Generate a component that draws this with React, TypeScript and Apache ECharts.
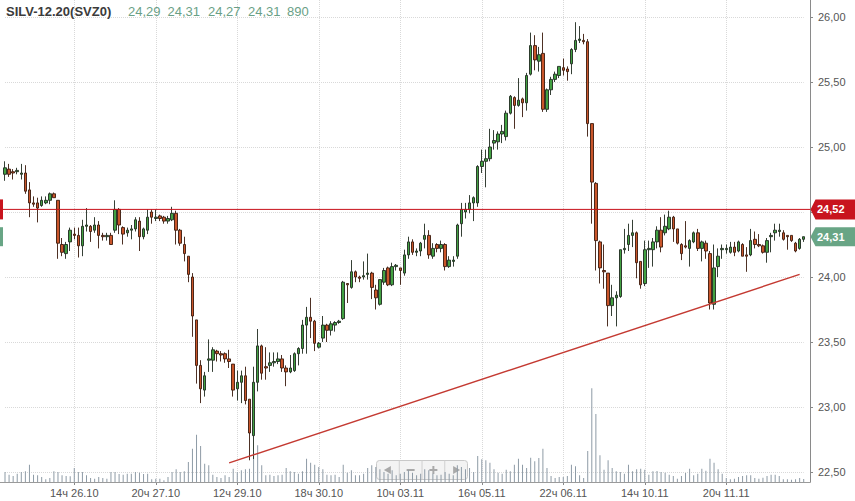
import React, { useEffect, useRef } from 'react';
import * as echarts from 'echarts';

// ---- data ----
const TITLE = 'SILV-12.20(SVZ0)';
const DAYS = ['23.10', '26.10', '27.10', '28.10', '29.10', '30.10', '02.11', '03.11', '05.11', '06.11', '09.11', '10.11', '11.11', '12.11', '13.11'];
const FIRST_HOUR = 11;
const SESSION_HOURS = [10, 11, 12, 13, 14, 15, 16, 17, 18, 19, 20, 21, 22, 23];

const opens = [
  24.79, 24.83, 24.81, 24.81, 24.79, 24.80, 24.67, 24.57, 24.57, 24.55,
  24.57, 24.59, 24.64, 24.59, 24.25, 24.18, 24.27, 24.33, 24.32, 24.24,
  24.39, 24.39, 24.36, 24.40, 24.32, 24.31, 24.32, 24.36, 24.52, 24.38,
  24.34, 24.36, 24.37, 24.43, 24.31, 24.36, 24.50, 24.45, 24.47, 24.46,
  24.43, 24.44, 24.49, 24.36, 24.25, 24.16, 24.00, 23.67, 23.32, 23.13,
  23.36, 23.36, 23.43, 23.41, 23.41, 23.37, 23.33, 23.14, 23.19, 23.24,
  23.06, 22.78, 23.19, 23.47, 23.31, 23.32, 23.34, 23.35, 23.37, 23.30,
  23.27, 23.28, 23.41, 23.45, 23.63, 23.69, 23.66, 23.46, 23.53, 23.63,
  23.59, 23.63, 23.65, 23.68, 23.95, 23.92, 24.04, 24.00, 24.00, 24.02,
  24.03, 23.90, 23.79, 23.96, 24.07, 23.94, 24.08, 24.07, 24.03, 24.17,
  24.27, 24.19, 24.20, 24.29, 24.32, 24.16, 24.25, 24.22, 24.25, 24.08,
  24.12, 24.16, 24.41, 24.50, 24.52, 24.57, 24.57, 24.85, 24.89, 24.91,
  25.03, 25.04, 25.10, 25.08, 25.26, 25.38, 25.32, 25.37, 25.34, 25.56,
  25.78, 25.66, 25.72, 25.29, 25.44, 25.52, 25.55, 25.61, 25.60, 25.64,
  25.75, 25.82, 25.82, 25.81, 25.18, 24.72, 24.27, 24.05, 24.03, 23.78,
  23.84, 23.85, 24.21, 24.25, 24.32, 24.34, 24.12, 23.95, 24.21, 24.21,
  24.27, 24.36, 24.34, 24.37, 24.46, 24.37, 24.25, 24.24, 24.22, 24.27,
  24.34, 24.22, 24.26, 24.18, 23.79, 24.08, 24.21, 24.21, 24.19, 24.23,
  24.20, 24.25, 24.17, 24.17, 24.29, 24.25, 24.24, 24.19, 24.31, 24.34,
  24.35, 24.34, 24.32, 24.32, 24.26, 24.22, 24.29,
];
const closes = [
  24.84, 24.79, 24.80, 24.82, 24.80, 24.66, 24.57, 24.56, 24.53, 24.59,
  24.59, 24.64, 24.61, 24.26, 24.19, 24.25, 24.36, 24.32, 24.24, 24.39,
  24.40, 24.35, 24.40, 24.32, 24.31, 24.32, 24.25, 24.52, 24.40, 24.33,
  24.36, 24.37, 24.44, 24.31, 24.37, 24.46, 24.46, 24.46, 24.45, 24.43,
  24.45, 24.49, 24.36, 24.26, 24.18, 24.02, 23.70, 23.32, 23.14, 23.24,
  23.37, 23.44, 23.41, 23.40, 23.37, 23.35, 23.13, 23.19, 23.24, 23.05,
  22.80, 23.19, 23.47, 23.26, 23.30, 23.34, 23.35, 23.37, 23.30, 23.27,
  23.30, 23.41, 23.45, 23.63, 23.69, 23.66, 23.49, 23.49, 23.63, 23.59,
  23.64, 23.65, 23.66, 23.96, 23.94, 24.04, 24.00, 23.99, 24.01, 24.03,
  23.92, 23.84, 23.98, 24.05, 23.94, 24.08, 24.09, 24.05, 24.17, 24.27,
  24.19, 24.20, 24.26, 24.32, 24.17, 24.22, 24.22, 24.25, 24.08, 24.13,
  24.13, 24.40, 24.52, 24.52, 24.57, 24.61, 24.85, 24.89, 24.91, 25.00,
  25.05, 25.10, 25.12, 25.26, 25.39, 25.32, 25.36, 25.34, 25.55, 25.78,
  25.67, 25.71, 25.29, 25.44, 25.52, 25.56, 25.62, 25.59, 25.58, 25.75,
  25.82, 25.83, 25.81, 25.18, 24.73, 24.28, 24.07, 24.04, 23.78, 23.84,
  23.86, 24.21, 24.22, 24.32, 24.34, 24.11, 23.94, 24.21, 24.22, 24.27,
  24.36, 24.23, 24.39, 24.46, 24.37, 24.26, 24.18, 24.23, 24.28, 24.34,
  24.22, 24.27, 24.20, 23.80, 24.07, 24.16, 24.22, 24.22, 24.23, 24.19,
  24.27, 24.16, 24.16, 24.28, 24.25, 24.24, 24.19, 24.28, 24.32, 24.36,
  24.36, 24.29, 24.31, 24.28, 24.20, 24.29, 24.31,
];
const lows = [
  24.74, 24.77, 24.75, 24.79, 24.75, 24.64, 24.46, 24.54, 24.42, 24.54,
  24.56, 24.56, 24.61, 24.14, 24.16, 24.14, 24.20, 24.29, 24.15, 24.16,
  24.35, 24.27, 24.34, 24.22, 24.28, 24.28, 24.25, 24.34, 24.33, 24.25,
  24.31, 24.29, 24.35, 24.20, 24.29, 24.33, 24.41, 24.43, 24.43, 24.41,
  24.41, 24.43, 24.25, 24.24, 24.12, 23.96, 23.54, 23.18, 23.03, 23.08,
  23.27, 23.27, 23.35, 23.35, 23.34, 23.30, 23.08, 23.05, 23.03, 23.02,
  22.59, 22.60, 23.12, 23.21, 23.21, 23.27, 23.31, 23.33, 23.27, 23.16,
  23.26, 23.27, 23.32, 23.41, 23.41, 23.53, 23.43, 23.45, 23.50, 23.50,
  23.55, 23.58, 23.64, 23.67, 23.80, 23.91, 23.96, 23.96, 23.98, 23.98,
  23.83, 23.75, 23.78, 23.94, 23.93, 23.93, 24.05, 23.94, 24.01, 24.14,
  24.17, 24.16, 24.16, 24.22, 24.14, 24.14, 24.19, 24.19, 24.05, 24.07,
  24.08, 24.14, 24.31, 24.45, 24.49, 24.43, 24.54, 24.80, 24.69, 24.89,
  24.98, 24.98, 25.03, 25.05, 25.25, 25.14, 25.31, 25.23, 25.28, 25.55,
  25.59, 25.58, 25.27, 25.27, 25.40, 25.50, 25.53, 25.55, 25.51, 25.56,
  25.73, 25.80, 25.79, 25.08, 24.41, 24.05, 23.95, 23.91, 23.62, 23.70,
  23.62, 23.84, 24.18, 24.20, 24.23, 23.99, 23.91, 23.93, 24.07, 24.08,
  24.22, 24.19, 24.32, 24.36, 24.27, 24.25, 24.13, 24.22, 24.08, 24.26,
  24.20, 24.12, 24.14, 23.75, 23.75, 24.00, 24.14, 24.18, 24.18, 24.16,
  24.19, 24.16, 24.04, 24.16, 24.22, 24.23, 24.18, 24.11, 24.19, 24.28,
  24.31, 24.28, 24.21, 24.27, 24.19, 24.21, 24.27,
];
const highs = [
  24.89, 24.87, 24.83, 24.84, 24.87, 24.86, 24.73, 24.62, 24.61, 24.62,
  24.62, 24.65, 24.65, 24.59, 24.30, 24.27, 24.38, 24.38, 24.38, 24.44,
  24.53, 24.40, 24.46, 24.43, 24.34, 24.34, 24.34, 24.59, 24.53, 24.39,
  24.38, 24.40, 24.46, 24.46, 24.38, 24.52, 24.52, 24.52, 24.48, 24.47,
  24.47, 24.54, 24.51, 24.37, 24.31, 24.16, 24.03, 23.67, 23.36, 23.27,
  23.52, 23.46, 23.44, 23.43, 23.42, 23.44, 23.33, 23.28, 23.28, 23.31,
  23.06, 23.31, 23.60, 23.48, 23.46, 23.42, 23.42, 23.42, 23.40, 23.32,
  23.40, 23.42, 23.46, 23.67, 23.77, 23.84, 23.67, 23.50, 23.70, 23.64,
  23.66, 23.66, 23.67, 23.97, 23.95, 24.13, 24.05, 24.01, 24.12, 24.18,
  24.04, 23.94, 23.98, 24.07, 24.08, 24.11, 24.10, 24.07, 24.21, 24.31,
  24.29, 24.22, 24.27, 24.41, 24.36, 24.26, 24.26, 24.28, 24.26, 24.16,
  24.16, 24.41, 24.57, 24.57, 24.63, 24.62, 24.86, 24.98, 24.98, 25.14,
  25.13, 25.12, 25.17, 25.28, 25.40, 25.39, 25.53, 25.38, 25.57, 25.88,
  25.86, 25.77, 25.88, 25.45, 25.54, 25.58, 25.62, 25.68, 25.62, 25.76,
  25.96, 25.93, 25.87, 25.83, 25.18, 24.73, 24.28, 24.25, 24.03, 23.94,
  23.89, 24.21, 24.37, 24.41, 24.44, 24.35, 24.12, 24.28, 24.28, 24.30,
  24.39, 24.46, 24.48, 24.51, 24.47, 24.37, 24.26, 24.43, 24.29, 24.35,
  24.37, 24.28, 24.28, 24.20, 24.25, 24.22, 24.25, 24.25, 24.27, 24.27,
  24.28, 24.26, 24.23, 24.37, 24.35, 24.33, 24.25, 24.30, 24.34, 24.41,
  24.41, 24.36, 24.32, 24.32, 24.27, 24.30, 24.31,
];
const volumes = [
  3000, 2200, 1800, 2500, 3000, 3200, 5200, 2200, 2000, 1500,
  800, 1200, 3200, 3000, 2000, 1800, 1700, 4200, 3000, 3000,
  2000, 1200, 1000, 1500, 1200, 1000, 3000, 3000, 2400, 2200,
  2500, 2500, 3000, 2800, 2400, 2500, 800, 1000, 1000, 500,
  1500, 3000, 3800, 3000, 3200, 6000, 10000, 14200, 10800, 5500,
  5000, 2200, 1500, 1200, 2000, 1500, 4000, 3000, 3500, 3800,
  4000, 8000, 11000, 5000, 2000, 2200, 1800, 2000, 2200, 4200,
  3200, 3000, 2500, 3200, 7000, 5800, 5200, 4500, 3800, 2200,
  2000, 2200, 1500, 5200, 2800, 3500, 2000, 2000, 2500, 4200,
  5000, 4500, 3800, 3000, 2500, 3500, 2000, 2500, 3000, 3500,
  2800, 2000, 2500, 3800, 3500, 2500, 2000, 2200, 3000, 2500,
  2000, 5000, 4500, 3800, 4200, 3000, 7800, 6800, 6500, 5800,
  3800, 2800, 2500, 3700, 3200, 5200, 7000, 5200, 4200, 7300,
  6200, 7200, 10000, 4200, 1800, 1200, 1500, 1500, 1800, 5200,
  4700, 2000, 1200, 9300, 28100, 20400, 8000, 3700, 6500, 4200,
  3200, 3000, 2500, 5200, 3200, 3800, 4000, 3700, 2200, 3200,
  3300, 3000, 2800, 2200, 1800, 1000, 1800, 2700, 4000, 2000,
  2500, 4000, 3400, 7000, 5800, 3800, 2500, 1200, 800, 1000,
  1500, 1800, 2000, 2000, 1200, 1000, 1300, 1800, 2200, 2200,
  1800, 800, 800, 700, 800, 1200, 890,
];

const LEVEL = 24.52;
const TREND_START = { index: 55, value: 22.57 };
const TREND_END = { index: 195, value: 24.02 };
const PRICE_MIN = 22.5;
const PRICE_MAX = 26;
const PRICE_STEP = 0.5;
const VOLUME_AXIS_MAX = 144600;
const LABEL_EVERY = 20;
const LABEL_FIRST = 17;

function buildCategories(count: number): string[] {
  const out: string[] = [];
  for (let d = 0; d < DAYS.length && out.length < count; d++) {
    for (const h of SESSION_HOURS) {
      if (d === 0 && h < FIRST_HOUR) continue;
      if (out.length >= count) break;
      out.push(`${h}ч ${DAYS[d]}`);
    }
  }
  return out;
}

const fmt = (v: number) => v.toFixed(2).replace('.', ',');
const FONT = '"Liberation Sans", Arial, sans-serif';

export default function App() {
  const ref = useRef<HTMLDivElement>(null);
  useEffect(() => {
    document.body.style.margin = '0';
    const chart = echarts.init(ref.current!, undefined, { renderer: 'svg' });
    const cats = buildCategories(opens.length);
    const candles = opens.map((o, i) => [o, closes[i], lows[i], highs[i]]);
    const showIdx = (i: number) => i % LABEL_EVERY === LABEL_FIRST;
    const last = opens.length - 1;
    // axis labels hidden where the price tags cover them (as in the reference)
    const covered = (v: number) => Math.abs(v - LEVEL) < 0.1 || Math.abs(v - closes[last]) < 0.1;

    const gridCommon = { left: 5, right: 51.3 };
    chart.setOption({
      animation: false,
      backgroundColor: '#ffffff',
      grid: [
        { ...gridCommon, top: 17, height: 455 },
        { ...gridCommon, top: 0, height: 482 },
      ],
      xAxis: [
        { type: 'category', gridIndex: 0, data: cats, boundaryGap: false, show: false },
        {
          type: 'category', gridIndex: 1, data: cats, boundaryGap: false,
          axisLine: { show: false },
          axisTick: { show: true, interval: (i: number) => showIdx(i), length: 3, lineStyle: { color: '#888' } },
          axisLabel: { interval: (i: number) => showIdx(i), color: '#555', fontSize: 11, fontFamily: FONT, margin: 5 },
          splitLine: { show: true, interval: (i: number) => showIdx(i), lineStyle: { color: '#d9d9d9', type: 'dotted' } },
        },
      ],
      yAxis: [
        {
          type: 'value', gridIndex: 0, position: 'right', offset: 6.3,
          min: PRICE_MIN, max: PRICE_MAX, interval: PRICE_STEP,
          axisLine: { show: false },
          axisTick: { show: true, length: 3, lineStyle: { color: '#888' } },
          axisLabel: {
            color: '#555', fontSize: 11, fontFamily: FONT, margin: 8,
            formatter: (v: number) => (covered(v) ? '' : fmt(v)),
          },
          splitLine: { show: true, lineStyle: { color: '#d9d9d9', type: 'dotted' } },
        },
        { type: 'value', gridIndex: 1, min: 0, max: VOLUME_AXIS_MAX, show: false },
      ],
      series: [
        {
          type: 'bar', xAxisIndex: 1, yAxisIndex: 1, data: volumes, barWidth: 1,
          itemStyle: { color: '#8e9ba6' }, silent: true, z: 1,
        },
        {
          type: 'candlestick', xAxisIndex: 0, yAxisIndex: 0, data: candles, barWidth: 3,
          clip: false, z: 3,
          itemStyle: {
            color: '#42a142', color0: '#c9552a',
            borderColor: '#1f2a1f', borderColor0: '#3a1a0c', borderWidth: 0.9,
          },
          markLine: {
            silent: true, symbol: ['none', 'none'], label: { show: false },
            lineStyle: { color: '#c43a32', width: 1.4, type: 'solid' },
            data: [[
              { coord: [cats[TREND_START.index], TREND_START.value] },
              { coord: [cats[TREND_END.index], TREND_END.value] },
            ]],
          },
        },
      ],
    });

    const yLevel = chart.convertToPixel({ yAxisIndex: 0 }, LEVEL) as number;
    const yLast = chart.convertToPixel({ yAxisIndex: 0 }, closes[last]) as number;
    const ohlc = [fmt(opens[last]), fmt(highs[last]), fmt(lows[last]), fmt(closes[last]), String(volumes[last])];
    const ohlcX = [128, 167.5, 208, 248, 287];
    const axisX = 810.5;
    const axisBottom = 482.5;

    const priceTag = (y: number, color: string, text: string, h: number) => [
      {
        type: 'polygon', z: 20,
        shape: { points: [[axisX, y], [axisX + 5, y - h / 2], [855, y - h / 2], [855, y + h / 2], [axisX + 5, y + h / 2]] },
        style: { fill: color },
      },
      {
        type: 'text', z: 21, x: axisX + 6.5, y,
        style: { text, fill: '#ffffff', font: `bold 11px ${FONT}`, verticalAlign: 'middle' },
      },
      { type: 'rect', z: 20, shape: { x: 0, y: y - h / 2, width: 3, height: h }, style: { fill: color } },
    ];

    const navX = 376.5, navY = 460.5, navW = 91, navH = 19;
    const seg = navW / 4;
    const glyph = '#a9a9a9';
    const cy = navY + navH / 2;

    chart.setOption({
      graphic: [
        {
          type: 'text', x: 6, y: 11.5, z: 30,
          style: { text: TITLE, fill: '#3b3b3b', font: `bold 13px ${FONT}`, verticalAlign: 'middle' },
        },
        ...ohlc.map((t, i) => ({
          type: 'text', x: ohlcX[i], y: 11.5, z: 30,
          style: { text: t, fill: '#6a9f86', font: `13px ${FONT}`, verticalAlign: 'middle' },
        })),
        { type: 'line', z: 15, shape: { x1: axisX, y1: 0, x2: axisX, y2: axisBottom }, style: { stroke: '#8a8a8a', lineWidth: 1 } },
        { type: 'line', z: 15, shape: { x1: 0, y1: axisBottom, x2: axisX, y2: axisBottom }, style: { stroke: '#9a9a9a', lineWidth: 1 } },
        { type: 'line', z: 12, shape: { x1: 0, y1: yLevel, x2: axisX, y2: yLevel }, style: { stroke: '#c8101a', lineWidth: 1 } },
        ...priceTag(yLevel, '#c8141e', fmt(LEVEL), 20),
        ...priceTag(yLast, '#68a585', fmt(closes[last]), 19),
        {
          type: 'group', z: 40,
          children: [
            { type: 'rect', shape: { x: navX, y: navY, width: navW, height: navH, r: 3 }, style: { fill: '#f3f3f3', stroke: '#c9c9c9', lineWidth: 1 } },
            ...[1, 2, 3].map((k) => ({
              type: 'line', shape: { x1: navX + seg * k, y1: navY, x2: navX + seg * k, y2: navY + navH },
              style: { stroke: '#d0d0d0', lineWidth: 1 },
            })),
            {
              type: 'polygon',
              shape: { points: [[navX + seg * 0.5 - 4, cy], [navX + seg * 0.5 + 3, cy - 4], [navX + seg * 0.5 + 3, cy + 4]] },
              style: { fill: glyph },
            },
            { type: 'rect', shape: { x: navX + seg * 1.5 - 4, y: cy - 1, width: 8, height: 2 }, style: { fill: glyph } },
            { type: 'rect', shape: { x: navX + seg * 2.5 - 4, y: cy - 1, width: 8, height: 2 }, style: { fill: glyph } },
            { type: 'rect', shape: { x: navX + seg * 2.5 - 1, y: cy - 4, width: 2, height: 8 }, style: { fill: glyph } },
            {
              type: 'polygon',
              shape: { points: [[navX + seg * 3.5 + 4, cy], [navX + seg * 3.5 - 3, cy - 4], [navX + seg * 3.5 - 3, cy + 4]] },
              style: { fill: glyph },
            },
          ],
        },
      ],
    });

    return () => chart.dispose();
  }, []);
  return <div ref={ref} style={{ width: 855, height: 501 }} />;
}
